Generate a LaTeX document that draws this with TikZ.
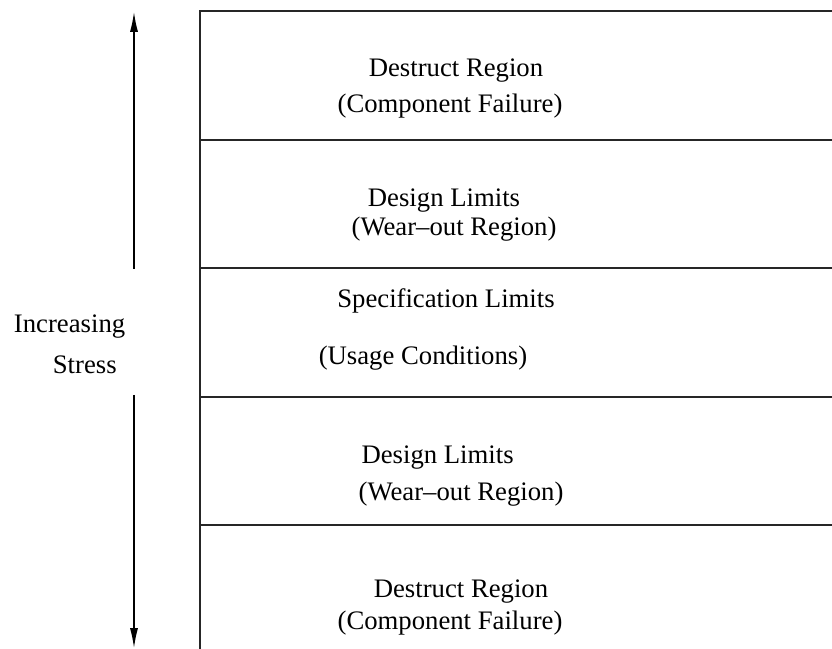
\documentclass[tikz,border=0pt]{standalone}
\usepackage{fontspec}
\setmainfont{Liberation Serif}
\usetikzlibrary{arrows.meta, positioning}

\begin{document}
\begin{tikzpicture}[
    every node/.style={font=\fontsize{19}{23}\selectfont},
    region/.style={line width=1.1pt, black!85},
    stress/.style={line width=1pt, -{Latex[length=5mm,width=2mm]}}
  ]
    \useasboundingbox (0,0) rectangle (20.8,16.225);

    % Regions
    \draw[region] (20.8,15.95) -- (5,15.95) -- (5,0);
    \foreach \y in {12.725,9.525,6.3,3.1}
    \draw[region] (5,\y) -- (20.8,\y);

    % Stress
    \node (inc) at (1.74,8.05) {Increasing};
    \node (str) at (2.12,7.1) {Stress};
    \coordinate (up) at (3.35,15.93);
    \coordinate (upstart) at (3.35,9.5);
    \coordinate (down) at (3.35,0.02);
    \coordinate (downstart) at (3.35,6.35);
    \draw[stress] (upstart) -- (up);
    \draw[stress] (downstart) -- (down);

    % Labels
    \node (dtop) at (11.4,14.45) {Destruct Region};
    \node (ctop) at (11.25,13.575) {(Component Failure)};
    \node (ltop) at (11.1,11.2) {Design Limits};
    \node (wtop) at (11.35,10.5) {(Wear--out Region)};
    \node (spec) at (11.15,8.7) {Specification Limits};
    \node (usage) at (10.575,7.275) {(Usage Conditions)};
    \node (lbot) at (10.94,4.775) {Design Limits};
    \node (wbot) at (11.525,3.875) {(Wear--out Region)};
    \node (dbot) at (11.525,1.43) {Destruct Region};
    \node (cbot) at (11.25,0.65) {(Component Failure)};
  \end{tikzpicture}
\end{document}
